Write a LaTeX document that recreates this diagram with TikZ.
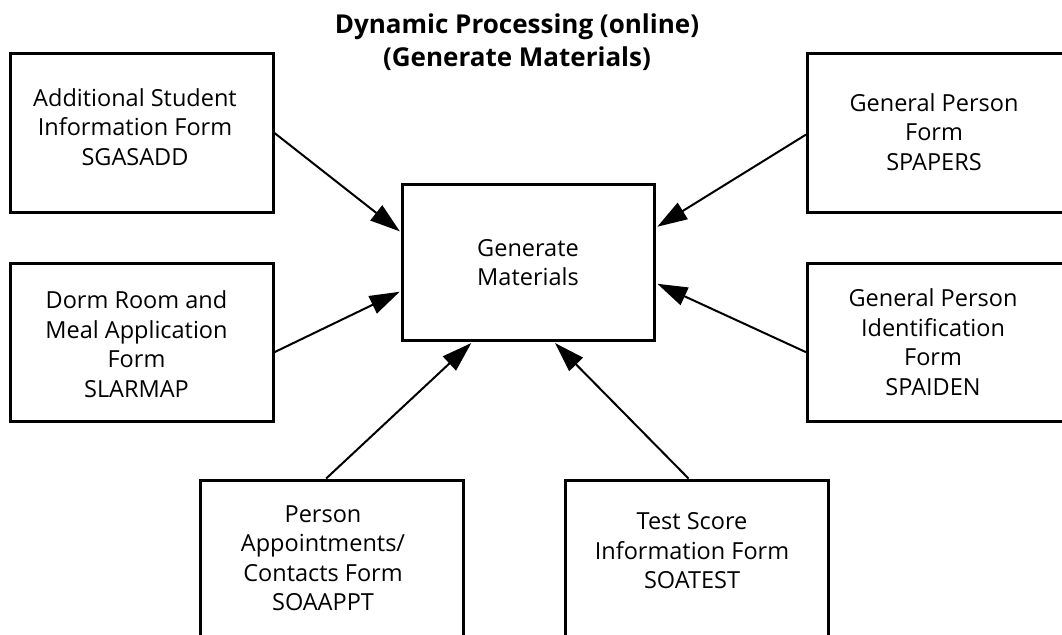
\documentclass[tikz,border=0pt]{standalone}
\usepackage{fontspec}
\setmainfont{Open Sans}
\usetikzlibrary{arrows.meta,calc}
\begin{document}
\begin{tikzpicture}[x=1pt,y=-1pt,
  form/.style={draw,line width=3pt,minimum width=263pt,minimum height=158pt,inner sep=0pt},
  hub/.style={draw,line width=3pt,minimum width=252pt,minimum height=156pt,inner sep=0pt},
  caption/.style={align=center,font=\fontsize{23.5}{29.5}\selectfont,inner sep=0pt},
  heading/.style={align=center,font=\fontsize{26}{33}\selectfont\bfseries,inner sep=0pt},
  feed/.style={line width=2pt,shorten >=1.5pt,-{Triangle[length=30pt,width=19pt]}}
]
\useasboundingbox (0,0) rectangle (1062,634);
\clip (0,0) rectangle (1062,634);

% title
\node[heading] (title) at (517,42) {Dynamic Processing (online)\\(Generate Materials)};

% central process
\node[hub] (ctr) at (528.5,262.5) {};
\node[caption] (ctrtxt) at (528,262.5) {Generate\\Materials};

% input forms
\node[form] (tl) at (141.5,133) {};
\node[caption] (tltxt) at (135,127) {Additional Student\\Information Form\\SGASADD};

\node[form] (ml) at (141.5,342.5) {};
\node[caption] (mltxt) at (136.5,344) {Dorm Room and\\Meal Application\\Form\\SLARMAP};

\node[form] (tr) at (939,133) {};
\node[caption] (trtxt) at (934,132) {General Person\\Form\\SPAPERS};

\node[form] (mr) at (939,342.5) {};
\node[caption] (mrtxt) at (933,342) {General Person\\Identification\\Form\\SPAIDEN};

\node[form] (bl) at (331.5,559) {};
\node[caption] (bltxt) at (323,558) {Person\\Appointments/\\Contacts Form\\SOAAPPT};

\node[form] (br) at (696.5,559) {};
\node[caption] (brtxt) at (692,551) {Test Score\\Information Form\\SOATEST};

% connectors into the central process
\draw[feed] (tl.east) -- ($(ctr.north west)!0.31!(ctr.south west)$);
\draw[feed] ($(ml.north east)!0.56!(ml.south east)$) -- ($(ctr.north west)!0.68!(ctr.south west)$);
\draw[feed] ($(tr.north west)!0.51!(tr.south west)$) -- ($(ctr.north east)!0.28!(ctr.south east)$);
\draw[feed] ($(mr.north west)!0.56!(mr.south west)$) -- ($(ctr.north east)!0.63!(ctr.south east)$);
\draw[feed] ($(bl.north west)!0.48!(bl.north east)$) -- ($(ctr.south west)!0.28!(ctr.south east)$);
\draw[feed] ($(br.north west)!0.47!(br.north east)$) -- ($(ctr.south west)!0.60!(ctr.south east)$);
\end{tikzpicture}
\end{document}
